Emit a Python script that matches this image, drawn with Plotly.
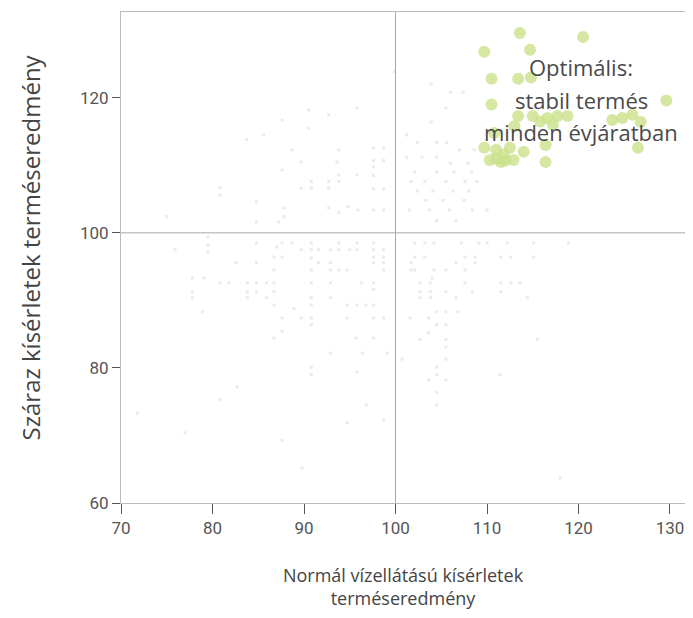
import plotly.graph_objects as go

# Faint gray points: all trials (normal x, dry y)
gray_x = [90.5, 92.7, 95.8, 87.6, 90.5, 83.7, 85.6, 88.7, 93.8, 97.6, 98.7, 89.7, 93.6, 97.6, 98.7,
          87.6, 93.8, 95.8, 97.6, 97.6, 90.8, 92.7, 93.8, 80.8, 80.8, 89.7, 90.8, 92.7, 97.6, 98.7,
          84.8, 87.8, 87.8, 92.7, 93.8, 94.8, 95.9, 97.6, 98.7, 75.0, 84.8, 87.2, 99.9,
          79.5, 79.5, 79.5, 75.9, 84.8, 87.0, 87.6, 88.7, 89.7, 90.8, 90.8, 90.8, 91.6, 92.9, 93.8,
          93.8, 95.0, 95.8, 95.8, 97.6, 97.6, 98.7, 86.7, 87.6, 91.6, 92.9, 97.6, 98.7, 97.6, 98.7,
          82.6, 84.8, 86.7, 90.8, 92.9, 93.8, 94.7, 98.7, 77.8, 79.1, 80.8, 81.8, 83.8, 84.8, 85.9,
          86.7, 90.8, 92.9, 96.3, 97.6, 77.8, 77.8, 83.8, 84.8, 83.8, 85.9, 86.7, 90.8, 92.9, 97.6,
          86.7, 88.9, 90.8, 94.7, 95.8, 96.8, 97.6, 78.9, 87.6, 89.7, 90.8, 94.7, 97.6, 98.7,
          87.6, 90.8, 86.7, 95.7, 97.6, 92.9, 96.4, 99.1, 90.8, 90.8, 95.8, 82.7, 80.8, 71.8, 77.0,
          87.6, 89.8, 96.8, 98.7, 94.7,
          102.1, 103.2, 104.2, 107.2, 109.1, 110.0, 112.2, 115.1, 118.9, 102.1, 103.2, 107.6, 108.7,
          111.5, 112.6, 115.1, 101.7, 106.6, 108.7, 101.7, 102.1, 104.2, 105.5, 107.6, 104.0, 102.7,
          103.8, 107.6, 111.5, 112.6, 113.6, 102.7, 103.8, 105.5, 108.4, 111.5, 102.7, 103.8, 106.6,
          114.4, 104.5, 105.5, 106.8, 101.6, 103.6, 104.5, 105.5, 103.6, 102.7, 105.5, 115.5, 105.5,
          100.7, 105.5, 104.5, 104.5, 111.4, 103.6, 105.5, 104.5, 104.5, 118.0,
          103.9, 106.0, 107.4, 103.9, 105.5, 101.2, 102.4, 104.5, 105.6, 107.0, 108.6, 101.2, 102.9,
          104.5, 106.0, 107.9, 102.1, 104.5, 106.4, 108.3, 101.7, 103.2, 105.5, 107.6, 108.9, 102.4,
          104.1, 106.3, 108.0, 103.3, 105.2, 107.5, 101.5, 103.7, 105.9, 108.4, 110.0, 104.5, 106.6]
gray_y = [118.2, 117.5, 118.5, 116.7, 115.5, 113.8, 114.5, 112.3, 112.3, 112.6, 112.6, 110.5, 110.5, 110.7, 110.7,
          109.3, 108.6, 108.6, 109.8, 108.5, 107.6, 107.6, 107.6, 106.7, 105.6, 106.6, 106.6, 106.6, 106.5, 106.5,
          104.6, 103.7, 102.4, 103.7, 103.0, 103.9, 103.4, 103.4, 103.4, 102.4, 101.6, 101.6, 123.9,
          99.4, 98.2, 97.2, 97.5, 98.5, 97.9, 98.5, 98.5, 97.5, 98.5, 97.5, 96.3, 97.5, 97.5, 98.5,
          97.5, 97.5, 98.5, 97.5, 98.5, 97.5, 97.5, 96.4, 96.4, 95.6, 95.6, 96.4, 96.4, 95.6, 95.6,
          95.6, 95.6, 94.5, 94.5, 94.5, 94.5, 94.5, 94.5, 93.3, 93.3, 92.6, 92.6, 92.6, 92.6, 92.6,
          92.6, 92.6, 92.6, 92.6, 92.6, 91.3, 90.4, 91.3, 91.3, 90.4, 90.4, 91.3, 90.4, 90.4, 91.6,
          89.3, 88.8, 89.3, 89.3, 89.3, 89.3, 89.3, 88.3, 87.4, 87.4, 87.4, 87.4, 87.4, 87.4,
          85.4, 86.4, 84.4, 84.4, 84.4, 82.2, 82.2, 82.2, 80.1, 79.0, 79.4, 77.2, 75.3, 73.3, 70.4,
          69.3, 65.2, 74.5, 72.3, 71.9,
          98.5, 98.5, 98.5, 98.5, 98.5, 98.5, 98.5, 98.5, 98.5, 96.4, 96.4, 96.4, 96.4,
          96.4, 96.4, 96.4, 95.6, 95.6, 95.6, 94.5, 94.5, 94.5, 94.5, 94.5, 93.3, 92.6,
          92.6, 92.6, 92.6, 92.6, 92.6, 91.3, 91.3, 91.3, 91.3, 91.3, 90.4, 90.4, 90.4,
          90.4, 88.3, 88.3, 88.3, 87.4, 87.4, 86.4, 86.4, 85.2, 84.2, 84.2, 84.2, 83.1,
          81.3, 81.3, 80.1, 79.0, 79.0, 78.2, 78.2, 76.4, 74.5, 63.7,
          122.0, 120.8, 120.8, 116.4, 118.5, 114.5, 113.4, 113.4, 113.4, 112.3, 112.3, 111.2, 111.2,
          111.2, 110.3, 110.3, 109.0, 109.0, 109.0, 109.0, 107.6, 107.6, 107.6, 107.6, 107.6, 106.2,
          106.2, 106.2, 106.2, 104.8, 104.8, 104.8, 103.4, 103.4, 103.4, 103.4, 103.4, 101.8, 101.8]

# Green points: optimal, stable yield in every year
green_x = [109.7, 113.6, 120.5, 114.7, 110.5, 113.4, 114.8, 110.5, 129.6, 113.4, 115.0, 116.6,
           117.7, 118.8, 123.7, 124.8, 125.9, 126.5, 109.7, 111.0, 112.5, 110.3, 111.5, 112.9,
           116.4, 116.4, 111.0, 112.0, 114.0, 113.0, 110.8, 111.8, 115.8, 117.2, 126.8]
green_y = [126.8, 129.6, 129.0, 127.1, 122.8, 122.8, 123.0, 119.0, 119.6, 117.3, 117.3, 117.0,
           117.3, 117.3, 116.7, 117.0, 117.5, 112.6, 112.6, 112.3, 112.6, 110.8, 110.5, 110.8,
           113.0, 110.5, 111.0, 110.7, 112.0, 115.8, 114.8, 111.6, 116.5, 116.0, 116.4]

x_ticks = [70, 80, 90, 100, 110, 120, 130]
y_ticks = [60, 80, 100, 120]

label_lines = ["Optimális:", "stabil termés", "minden évjáratban"]
label_y = [124.5, 119.7, 115.0]

x_title = "Normál vízellátású kísérletek<br>terméseredmény"
y_title = "Száraz kísérletek terméseredmény"

FONT = "Roboto"
TFONT = "Open Sans"

fig = go.Figure()
fig.add_trace(go.Scatter(x=gray_x, y=gray_y, mode="markers",
                         marker=dict(symbol="square", size=3, color="rgba(160,160,160,0.22)"),
                         hoverinfo="skip", showlegend=False))
fig.add_trace(go.Scatter(x=green_x, y=green_y, mode="markers",
                         marker=dict(size=12, color="rgba(202,225,138,0.8)", line=dict(width=0)),
                         hoverinfo="skip", showlegend=False))

fig.add_shape(type="line", x0=100, x1=100, y0=0, y1=1, xref="x", yref="paper",
              line=dict(color="#a8a8a8", width=1), layer="below")
fig.add_shape(type="line", x0=0, x1=1, y0=100, y1=100, xref="paper", yref="y",
              line=dict(color="#a8a8a8", width=1), layer="below")

for txt, yy in zip(label_lines, label_y):
    fig.add_annotation(x=120.3, y=yy, xref="x", yref="y", text=txt,
                       showarrow=False, font=dict(family=TFONT, size=22, color="#4a4a4a"),
                       align="center")

# Y-axis title as rotated annotation (positioned like the reference)
fig.add_annotation(x=-0.161, y=0.521, xref="paper", yref="paper", text=y_title,
                   textangle=-90, showarrow=False, xanchor="center", yanchor="middle",
                   font=dict(family=TFONT, size=24, color="#444"))

fig.update_xaxes(range=[70, 131.64], tickvals=x_ticks, ticks="outside", ticklen=10,
                 tickcolor="#555", showgrid=False, zeroline=False, showline=True,
                 linecolor="#bbbbbb", mirror=True, automargin=False,
                 ticklabeloverflow="allow",
                 tickfont=dict(family=FONT, size=17, color="#555"),
                 title=dict(text=x_title,
                            font=dict(family=TFONT, size=18, color="#444"), standoff=38))
fig.update_yaxes(range=[60, 132.7], tickvals=y_ticks, ticks="outside", ticklen=8,
                 tickcolor="#555", showgrid=False, zeroline=False, showline=True,
                 linecolor="#bbbbbb", mirror=True, automargin=False,
                 tickfont=dict(family=FONT, size=17, color="#555"))

fig.update_layout(width=677, height=602, margin=dict(l=113, r=0, t=4, b=107),
                  plot_bgcolor="white", paper_bgcolor="white")

fig.write_html("out.html")
